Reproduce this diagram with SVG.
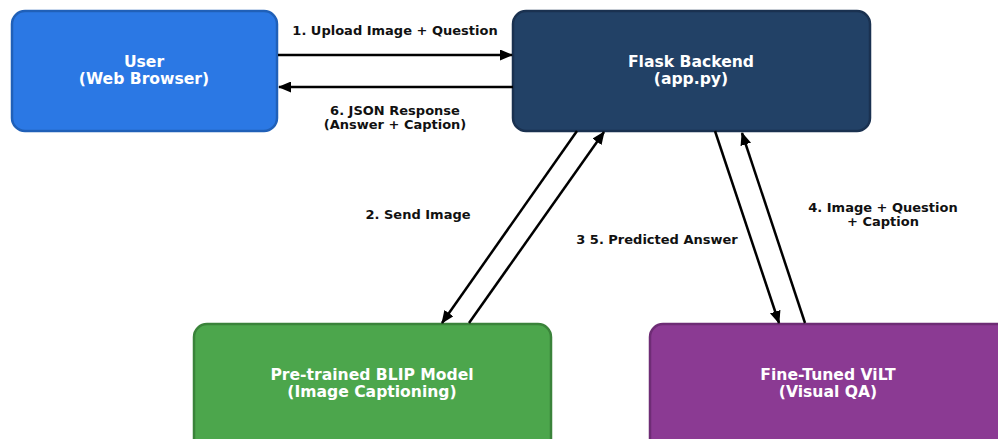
<svg xmlns="http://www.w3.org/2000/svg" width="998" height="439" viewBox="0 0 998 439">
<style>
.node{stroke-width:2.5}
.nl{font-family:"DejaVu Sans",sans-serif;font-weight:bold;font-size:15.6px;fill:#ffffff;text-anchor:middle}
.el{font-family:"DejaVu Sans",sans-serif;font-weight:bold;font-size:13px;fill:#111111;text-anchor:middle}
.c{stroke:#000;stroke-width:2.5;fill:none;marker-end:url(#ah)}
</style>
<defs>
<marker id="ah" viewBox="0 0 13 11" refX="12" refY="5.5" markerWidth="13" markerHeight="11" markerUnits="userSpaceOnUse" orient="auto">
<path d="M0,0 L13,5.5 L0,11 Z" fill="#000"/>
</marker>
</defs>
<rect width="998" height="439" fill="#ffffff"/>
<g id="user">
<rect class="node" x="12" y="11" width="265" height="120" rx="13" fill="#2b78e4" stroke="#2060b8"/>
<text class="nl" x="144" y="67">User</text>
<text class="nl" x="144" y="84">(Web Browser)</text>
</g>
<g id="flask">
<rect class="node" x="513" y="11" width="357" height="120" rx="13" fill="#224166" stroke="#1a3150"/>
<text class="nl" x="691" y="67">Flask Backend</text>
<text class="nl" x="691" y="84">(app.py)</text>
</g>
<g id="blip">
<rect class="node" x="194" y="324" width="357" height="130" rx="13" fill="#4ca64c" stroke="#3a833a"/>
<text class="nl" x="372" y="380">Pre-trained BLIP Model</text>
<text class="nl" x="372" y="397">(Image Captioning)</text>
</g>
<g id="vilt">
<rect class="node" x="650" y="324" width="370" height="130" rx="13" fill="#8b3a93" stroke="#6e2c75"/>
<text class="nl" x="828" y="380">Fine-Tuned ViLT</text>
<text class="nl" x="828" y="397">(Visual QA)</text>
</g>
<g id="connectors">
<line class="c" x1="278" y1="55" x2="512" y2="55"/>
<line class="c" x1="513" y1="87" x2="279" y2="87"/>
<line class="c" x1="577" y1="131" x2="442" y2="323"/>
<line class="c" x1="469" y1="323" x2="604" y2="132"/>
<line class="c" x1="715" y1="131" x2="779" y2="323"/>
<line class="c" x1="805" y1="323" x2="742" y2="133"/>
<text class="el" x="395" y="35">1. Upload Image + Question</text>
<text class="el" x="395" y="115">6. JSON Response</text>
<text class="el" x="395" y="129">(Answer + Caption)</text>
<text class="el" x="418" y="219">2. Send Image</text>
<text class="el" x="657" y="244">3 5. Predicted Answer</text>
<text class="el" x="883" y="212">4. Image + Question</text>
<text class="el" x="883" y="226">+ Caption</text>
</g>
</svg>
